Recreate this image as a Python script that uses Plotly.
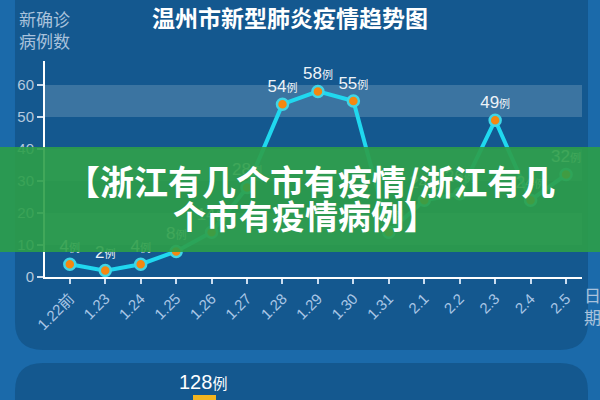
import plotly.graph_objects as go

dates = ["1.22前", "1.23", "1.24", "1.25", "1.26", "1.27", "1.28", "1.29",
         "1.30", "1.31", "2.1", "2.2", "2.3", "2.4", "2.5"]
cases = [4, 2, 4, 8, 14, 28, 54, 58, 55, 14, 24, 26, 49, 24, 32]
y_ticks = [0, 10, 20, 30, 40, 50, 60]
bands = [(10, 20), (30, 40), (50, 60)]
title_text = "温州市新型肺炎疫情趋势图"
ylabel_text = "新确诊<br>病例数"
xlabel_text = "日<br>期"
banner_line1 = "【浙江有几个市有疫情/浙江有几"
banner_line2 = "个市有疫情病例】"
next_value = 128

W, H = 600, 400
L, R, T, B = 45, 18, 61, 123
PW, PH = W - L - R, H - T - B


def px(x):
    return (x - L) / PW


def py(y):
    return (H - B - y) / PH


def rrect(x0, y0, x1, y1, r):
    def P(x, y):
        return f"{px(x):.5f},{py(y):.5f}"
    return (f"M {P(x0 + r, y0)} L {P(x1 - r, y0)} Q {P(x1, y0)} {P(x1, y0 + r)} "
            f"L {P(x1, y1 - r)} Q {P(x1, y1)} {P(x1 - r, y1)} "
            f"L {P(x0 + r, y1)} Q {P(x0, y1)} {P(x0, y1 - r)} "
            f"L {P(x0, y0 + r)} Q {P(x0, y0)} {P(x0 + r, y0)} Z")


FONT = "Liberation Sans, Noto Sans CJK SC, sans-serif"
CJK = "Noto Sans CJK SC, sans-serif"

fig = go.Figure()
fig.add_trace(go.Scatter(
    x=dates, y=cases, mode="lines+markers+text",
    line=dict(color="#20d8ef", width=4),
    marker=dict(color="#f5870f", size=11, line=dict(color="#3fd6e6", width=2.5)),
    text=[f"{v}<span style='font-size:11px'>例</span>" for v in cases],
    textposition="top center",
    textfont=dict(color="#eef3f8", size=17, family=FONT),
    cliponaxis=False, hoverinfo="skip", showlegend=False,
))

shapes = []
shapes.append(dict(type="path", xref="paper", yref="paper", layer="below",
                   path=rrect(15, -30, 588, 350, 28), fillcolor="#14588f", line_width=0))
shapes.append(dict(type="path", xref="paper", yref="paper", layer="below",
                   path=rrect(15, 363, 588, 460, 28), fillcolor="#14588f", line_width=0))
for lo, hi in bands:
    shapes.append(dict(type="rect", xref="paper", yref="y", layer="below",
                       x0=0, x1=1, y0=lo, y1=hi,
                       fillcolor="rgba(255,255,255,0.17)", line_width=0))
shapes.append(dict(type="rect", xref="paper", yref="paper", layer="below",
                   x0=px(193), x1=px(216), y0=py(395), y1=py(420),
                   fillcolor="#f3b520", line_width=0))
shapes.append(dict(type="rect", xref="paper", yref="paper", layer="above",
                   x0=px(0), x1=px(600), y0=py(147), y1=py(252),
                   fillcolor="rgba(44,158,72,0.9)", line_width=0))


def ann(text, x, y, size, color, family):
    return dict(text=text, x=px(x), y=py(y), xref="paper", yref="paper",
                xanchor="center", yanchor="middle", showarrow=False,
                font=dict(size=size, color=color, family=family))


annotations = [
    ann(f"<b>{title_text}</b>", 290, 17, 23, "#ffffff", CJK),
    ann(ylabel_text, 44, 29, 17, "#a9c2dc", CJK),
    ann(xlabel_text, 592, 305, 17, "#a9c2dc", CJK),
    ann(f"{next_value}<span style='font-size:15px'>例</span>", 203, 382, 20, "#ffffff", FONT),
    ann(f"<b>{banner_line1}</b>", 310, 180, 34, "#ffffff", CJK),
    ann(f"<b>{banner_line2}</b>", 305, 215, 33, "#ffffff", CJK),
]

fig.update_layout(
    width=W, height=H, margin=dict(l=L, r=R, t=T, b=B),
    paper_bgcolor="#1b6aaa", plot_bgcolor="rgba(0,0,0,0)",
    shapes=shapes, annotations=annotations,
    xaxis=dict(type="category", range=[-0.7, 14.45], showgrid=False, zeroline=False,
               showline=True, linecolor="#ffffff", linewidth=2,
               ticks="outside", ticklen=5, tickcolor="#c9dcef", tickwidth=1.5,
               tickangle=-45, automargin=False,
               tickfont=dict(size=15, color="#a9c6e6", family=FONT)),
    yaxis=dict(range=[0, 67.5], tickvals=y_ticks, showgrid=False, zeroline=False,
               showline=True, linecolor="#ffffff", linewidth=2,
               ticks="outside", ticklen=6, tickcolor="#c9dcef", tickwidth=1.5,
               automargin=False,
               tickfont=dict(size=15, color="#b5c9de", family=FONT)),
)

fig.write_html("out.html", config={"displayModeBar": False},
               post_script="document.body.style.margin='0';")
